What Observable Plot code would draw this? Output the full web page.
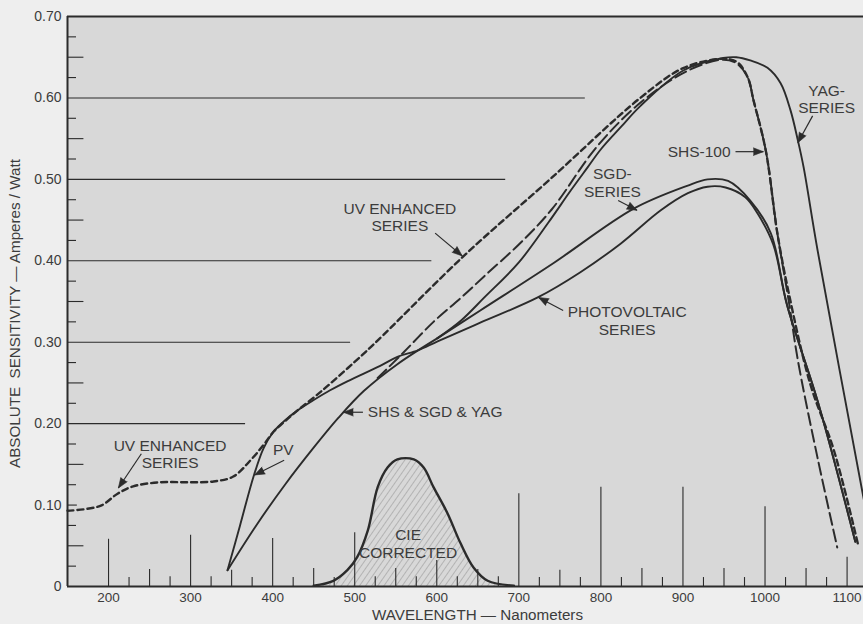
<!DOCTYPE html>
<html>
<head>
<meta charset="utf-8">
<script src="https://cdn.jsdelivr.net/npm/d3@7"></script>
<script src="https://cdn.jsdelivr.net/npm/@observablehq/plot@0.6"></script>
<style>
html, body { margin: 0; padding: 0; background: #eeeeee; overflow: hidden; }
</style>
</head>
<body>
<div id="chart"></div>
<script>
// ---------- Axis ticks & labels ----------
const xTickLabels = [200, 300, 400, 500, 600, 700, 800, 900, 1000, 1100];
const yTickValues = [0, 0.1, 0.2, 0.3, 0.4, 0.5, 0.6, 0.7];
const yTickLabels = ["0", "0.10", "0.20", "0.30", "0.40", "0.50", "0.60", "0.70"];

// vertical rules rising from the wavelength axis (nm, height in A/W)
const bottomTickNm = [200,225,250,275,300,325,350,375,400,425,450,475,500,525,550,575,600,625,650,675,700,725,750,775,800,825,850,875,900,925,950,975,1000,1025,1050,1075,1100];
const bottomTickHeight = [0.058,0.011,0.021,0.012,0.063,0.012,0.020,0.011,0.059,0.011,0.022,0.011,0.066,0.012,0.022,0.012,0.032,0.012,0.021,0.012,0.114,0.011,0.020,0.011,0.122,0.011,0.022,0.011,0.122,0.011,0.022,0.011,0.098,0.011,0.022,0.011,0.036];

// inward ticks on the sensitivity axis (value, length in nm)
const leftTickY = [0.025,0.05,0.075,0.125,0.15,0.175,0.225,0.25,0.275,0.325,0.35,0.375,0.425,0.45,0.475,0.525,0.55,0.575,0.625,0.65,0.675];
const leftTickLen = [11,20,11,11,20,11,11,20,11,11,20,11,11,20,11,11,20,11,11,20,11];

// staircase grid lines (value, end wavelength)
const gridY = [0.1, 0.2, 0.3, 0.4, 0.5, 0.6];
const gridEnd = [162, 367, 495, 594, 684, 781];

// ---------- Series ----------
// UV enhanced series (short dash)
const uvNm  = [150,190,211,230,263,296,328,352,373,389,401,415,430,450,470,511,535,633,739,848,901,949,966,979,986,1001,1015,1029,1055,1084,1113];
const uvVal = [0.093,0.099,0.114,0.123,0.128,0.128,0.129,0.135,0.155,0.174,0.190,0.203,0.216,0.232,0.249,0.286,0.309,0.406,0.501,0.600,0.637,0.648,0.644,0.625,0.597,0.535,0.434,0.360,0.249,0.167,0.053];

// SHS & SGD & YAG common rise (solid)
const shsNm  = [345,380,415,448,480,511,552,601];
const shsVal = [0.020,0.075,0.125,0.168,0.207,0.240,0.273,0.305];

// YAG series (solid)
const yagNm  = [601,630,658,700,736,763,784,800,825,848,901,949,965,982,1003,1019,1031,1040,1047,1064,1120,1131];
const yagVal = [0.305,0.327,0.355,0.398,0.447,0.486,0.515,0.537,0.565,0.590,0.634,0.649,0.650,0.646,0.637,0.618,0.585,0.548,0.515,0.413,0.109,0.050];

// SHS-100 (long dash)
const shs100Nm  = [528,560,596,630,660,700,740,795,848,905,949,966,979,986,1001,1015,1029,1040,1064,1088];
const shs100Val = [0.256,0.288,0.325,0.355,0.383,0.420,0.463,0.540,0.594,0.633,0.647,0.642,0.625,0.597,0.535,0.434,0.350,0.278,0.158,0.048];

// SGD series (solid)
const sgdNm  = [601,653,742,840,905,930,955,982,1007,1027,1064,1110];
const sgdVal = [0.305,0.339,0.397,0.464,0.492,0.500,0.498,0.474,0.434,0.345,0.228,0.055];

// Photovoltaic series (solid)
const pvNm  = [345,360,377,389,401,415,430,450,470,491,531,552,577,601,653,723,775,824,873,906,930,952,976,991,1010,1027,1064,1110];
const pvVal = [0.020,0.074,0.136,0.170,0.190,0.204,0.216,0.229,0.241,0.252,0.271,0.282,0.290,0.301,0.324,0.355,0.386,0.421,0.462,0.483,0.491,0.490,0.478,0.458,0.420,0.345,0.228,0.055];

// CIE corrected (hatched)
const cieNm  = [450,474,491,503,516,528,540,552,572,584,596,613,629,645,662,694];
const cieVal = [0.001,0.007,0.020,0.036,0.069,0.122,0.146,0.156,0.156,0.146,0.122,0.090,0.053,0.023,0.007,0.001];

// ---------- Annotations ----------
const annText   = ["UV ENHANCED\nSERIES", "PV", "SHS & SGD & YAG", "UV ENHANCED\nSERIES", "PHOTOVOLTAIC\nSERIES", "SGD-\nSERIES", "SHS-100", "YAG-\nSERIES", "CIE\nCORRECTED"];
const annX      = [275, 413, 516, 555, 832, 814, 958, 1075, 565];
const annY      = [0.163, 0.168, 0.214, 0.454, 0.327, 0.496, 0.534, 0.599, 0.053];
const annAnchor = ["middle", "middle", "start", "middle", "middle", "middle", "end", "middle", "middle"];

const arrX1 = [240, 414, 510, 598, 754, 821, 964, 1058];
const arrY1 = [0.163, 0.155, 0.214, 0.434, 0.339, 0.474, 0.534, 0.578];
const arrX2 = [212, 378, 486, 631, 724, 844, 998, 1040];
const arrY2 = [0.121, 0.137, 0.214, 0.406, 0.355, 0.462, 0.534, 0.545];

// ---------- Layout ----------
const W = 863, H = 624;
const M = {top: 16, right: 0, bottom: 38, left: 67};
const xDomain = [150, 1120];
const yDomain = [0, 0.7];
const ink = "#2b2b2b";
const textInk = "#3c3c3c";

const zip = (a, b) => a.map((x, i) => ({x, y: b[i]}));
const uv = zip(uvNm, uvVal), shs = zip(shsNm, shsVal), yag = zip(yagNm, yagVal),
      shs100 = zip(shs100Nm, shs100Val), sgd = zip(sgdNm, sgdVal), pv = zip(pvNm, pvVal),
      cie = zip(cieNm, cieVal);
const bottomTicks = bottomTickNm.map((x, i) => ({x, h: bottomTickHeight[i]}));
const leftTicks = leftTickY.map((y, i) => ({y, x2: xDomain[0] + leftTickLen[i]}));
const grid = gridY.map((y, i) => ({y, x2: gridEnd[i]}));
const anns = annText.map((t, i) => ({t, x: annX[i], y: annY[i], a: annAnchor[i]}));

const xs = Plot.scale({x: {domain: xDomain, range: [M.left, W - M.right]}});
const ys = Plot.scale({y: {domain: yDomain, range: [H - M.bottom, M.top]}});
const arrows = arrX1.map((_, i) => {
  const dx = xs.apply(arrX2[i]) - xs.apply(arrX1[i]);
  const dy = ys.apply(arrY2[i]) - ys.apply(arrY1[i]);
  return {x1: arrX1[i], y1: arrY1[i], x2: arrX2[i], y2: arrY2[i], angle: Math.atan2(dx, -dy) * 180 / Math.PI};
});

const curve = "catmull-rom";
const annFont = 15.5;
const chart = Plot.plot({
  width: W, height: H,
  marginTop: M.top, marginRight: M.right, marginBottom: M.bottom, marginLeft: M.left,
  style: {background: "#eeeeee", fontFamily: "'Liberation Sans', Arial, sans-serif", color: textInk},
  x: {domain: xDomain, axis: null},
  y: {domain: yDomain, axis: null},
  marks: [
    Plot.frame({fill: "#d8d8d8", stroke: "none"}),
    // hatched CIE area
    Plot.areaY(cie, {x: "x", y: "y", fill: "url(#cieHatch)", curve}),
    // staircase grid & inward ticks
    Plot.ruleY(grid, {y: "y", x1: xDomain[0], x2: "x2", stroke: ink, strokeWidth: 1.1}),
    Plot.ruleY(leftTicks, {y: "y", x1: xDomain[0], x2: "x2", stroke: ink, strokeWidth: 1.1}),
    // rules on wavelength axis
    Plot.ruleX(bottomTicks, {x: "x", y1: 0, y2: "h", stroke: ink, strokeWidth: 1.1}),
    // frame lines
    Plot.ruleY([0.7], {stroke: ink, strokeWidth: 2}),
    Plot.ruleY([0], {stroke: ink, strokeWidth: 2}),
    Plot.ruleX([xDomain[0]], {stroke: ink, strokeWidth: 2}),
    // CIE outline
    Plot.line(cie, {x: "x", y: "y", curve, stroke: ink, strokeWidth: 2.4}),
    // series
    Plot.line(shs, {x: "x", y: "y", curve, stroke: ink, strokeWidth: 1.9}),
    Plot.line(yag, {x: "x", y: "y", curve, stroke: ink, strokeWidth: 1.9}),
    Plot.line(sgd, {x: "x", y: "y", curve, stroke: ink, strokeWidth: 1.9}),
    Plot.line(pv, {x: "x", y: "y", curve, stroke: ink, strokeWidth: 1.9}),
    Plot.line(shs100, {x: "x", y: "y", curve, stroke: ink, strokeWidth: 2, strokeDasharray: "12,5"}),
    Plot.line(uv, {x: "x", y: "y", curve, stroke: ink, strokeWidth: 2.4, strokeDasharray: "6,4"}),
    // annotations
    Plot.link(arrows, {x1: "x1", y1: "y1", x2: "x2", y2: "y2", stroke: ink, strokeWidth: 1.2}),
    Plot.vector(arrows, {x: "x2", y: "y2", rotate: "angle", length: 10, r: 3.8, shape: "spike", anchor: "end", fill: ink, stroke: ink, strokeWidth: 0.6}),
    Plot.text(anns.filter(d => d.a === "middle"), {x: "x", y: "y", text: "t", textAnchor: "middle", fontSize: annFont, lineHeight: 1.15, fill: textInk}),
    Plot.text(anns.filter(d => d.a === "start"), {x: "x", y: "y", text: "t", textAnchor: "start", fontSize: annFont, fill: textInk}),
    Plot.text(anns.filter(d => d.a === "end"), {x: "x", y: "y", text: "t", textAnchor: "end", fontSize: annFont, fill: textInk}),
    // axes
    Plot.axisX({ticks: xTickLabels, tickSize: 0, tickPadding: 6, fontSize: 13.5, label: null, tickFormat: d => String(d)}),
    Plot.axisY({ticks: yTickValues, tickSize: 0, tickPadding: 6, fontSize: 14, label: null, tickFormat: d => yTickLabels[yTickValues.indexOf(d)]}),
    Plot.text(["WAVELENGTH — Nanometers"], {frameAnchor: "bottom", textAnchor: "middle", lineAnchor: "middle", dx: 12, dy: 28.5, fontSize: 15.2, fill: textInk}),
    Plot.text(["ABSOLUTE  SENSITIVITY — Amperes / Watt"], {frameAnchor: "left", textAnchor: "middle", lineAnchor: "middle", dx: -52, dy: 12, rotate: -90, fontSize: 15.2, fill: textInk})
  ]
});

const defs = document.createElementNS("http://www.w3.org/2000/svg", "defs");
defs.innerHTML = '<pattern id="cieHatch" patternUnits="userSpaceOnUse" width="5" height="5" patternTransform="rotate(35)">' +
  '<rect width="5" height="5" fill="#d8d8d8"/>' +
  '<line x1="0" y1="0" x2="0" y2="5" stroke="#7a7a7a" stroke-width="0.8"/></pattern>';
chart.insertBefore(defs, chart.firstChild);
document.getElementById("chart").appendChild(chart);
</script>
</body>
</html>
